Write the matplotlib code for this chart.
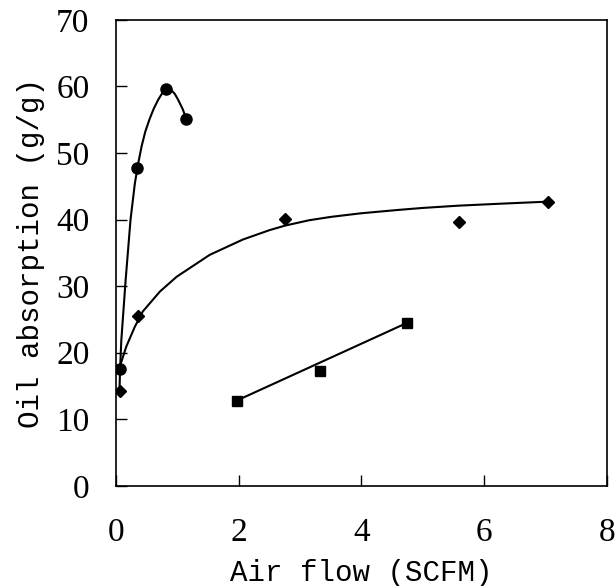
import matplotlib
matplotlib.use("Agg")
import matplotlib.pyplot as plt

# measured points
circle_x = [0.07, 0.34, 0.81, 1.15]
circle_y = [17.6, 47.7, 59.6, 55.1]
diamond_x = [0.07, 0.36, 2.76, 5.6, 7.05]
diamond_y = [14.3, 25.5, 40.1, 39.7, 42.7]
square_x = [1.97, 3.33, 4.75]
square_y = [12.8, 17.3, 24.5]

# trend curves
circle_fit_x = [0.06, 0.07, 0.09, 0.16, 0.24, 0.31, 0.36, 0.42, 0.48, 0.55, 0.62, 0.69, 0.75,
                0.81, 0.86, 0.9, 0.96, 1.01, 1.09, 1.15]
circle_fit_y = [14.3, 17.6, 21.9, 30.9, 40.0, 45.4, 48.2, 51.0, 53.2, 55.1, 56.7, 58.0, 58.9,
                59.5, 59.7, 59.5, 58.9, 58.1, 56.6, 55.1]
diamond_fit_x = [0.065, 0.17, 0.31, 0.44, 0.72, 0.99, 1.53, 2.07, 2.5, 2.76, 3.15, 3.5, 4.0,
                 4.6, 5.0, 5.6, 6.3, 7.05]
diamond_fit_y = [17.9, 20.9, 23.9, 26.2, 29.2, 31.4, 34.7, 37.0, 38.4, 39.1, 39.9, 40.4, 40.95,
                 41.45, 41.75, 42.1, 42.4, 42.7]
square_fit_x = [1.97, 4.75]
square_fit_y = [12.8, 24.5]

xticks = [0, 2, 4, 6, 8]
yticks = [0, 10, 20, 30, 40, 50, 60, 70]

fig = plt.figure(figsize=(6.16, 5.86), dpi=100)
ax = fig.add_axes([0.188, 0.171, 0.797, 0.795])

ax.plot(circle_fit_x, circle_fit_y, color="black", lw=1.5)
ax.plot(diamond_fit_x, diamond_fit_y, color="black", lw=1.5)
ax.plot(square_fit_x, square_fit_y, color="black", lw=1.5)
ax.plot(circle_x, circle_y, "o", color="black", ms=8, ls="none")
ax.plot(diamond_x, diamond_y, "D", color="black", ms=6, ls="none")
ax.plot(square_x, square_y, "s", color="black", ms=7.5, ls="none")

ax.set_xlim(0, 8)
ax.set_ylim(0, 70)
ax.set_xticks(xticks)
ax.set_yticks(yticks)
ax.tick_params(direction="in", length=8, width=1, top=False, right=False)
ax.tick_params(axis="x", pad=23)
ax.tick_params(axis="y", pad=19)
for lab in ax.get_xticklabels() + ax.get_yticklabels():
    lab.set_fontfamily("Liberation Serif")
    lab.set_fontsize(24)
for s in ax.spines.values():
    s.set_linewidth(1.2)

ax.set_xlabel("Air flow (SCFM)", fontfamily="Liberation Mono", fontsize=21, labelpad=8)
ax.set_ylabel("Oil absorption (g/g)", fontfamily="Liberation Mono", fontsize=21, labelpad=8)

fig.savefig("out.png", dpi=100)
